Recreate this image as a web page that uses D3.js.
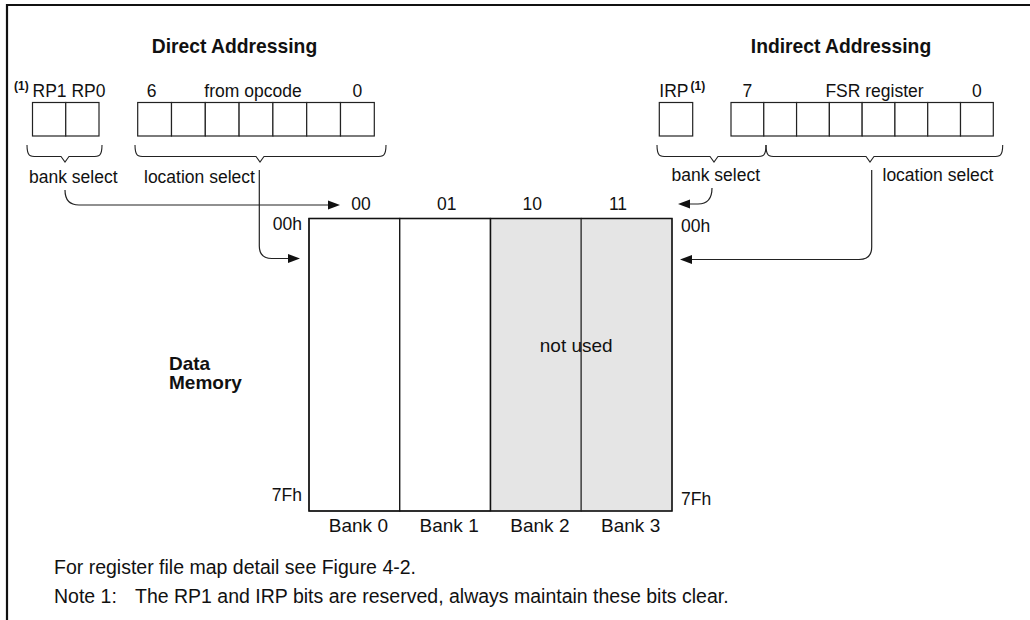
<!DOCTYPE html>
<html>
<head>
<meta charset="utf-8">
<script src="https://cdn.jsdelivr.net/npm/d3@7"></script>
<style>
  body { margin: 0; background: #fff; }
  svg text { font-family: "Liberation Sans", Arial, sans-serif; fill: #111; }
</style>
</head>
<body>
<div id="chart"></div>
<script>
// register bits
const rpBits = ['RP1', 'RP0'];
const opcodeBits = [6, 5, 4, 3, 2, 1, 0];
const irpBits = ['IRP'];
const fsrBits = [7, 6, 5, 4, 3, 2, 1, 0];

// memory banks
const banks = ['Bank 0', 'Bank 1', 'Bank 2', 'Bank 3'];
const bankCodes = ['00', '01', '10', '11'];
const bankUsed = [true, true, false, false];
const addrLabels = [0x00, 0x7F];

const svg = d3.select('#chart')
  .append('svg')
  .attr('width', 1030)
  .attr('height', 620);

// frame (top + left only)
svg.append('path')
  .attr('d', 'M7,620 L7,5 L1030,5')
  .attr('fill', 'none')
  .attr('stroke', '#111')
  .attr('stroke-width', 2.2);

// scales
const xMem = d3.scaleBand().domain(banks).range([309, 672]);
const yMem = d3.scaleLinear().domain([0x00, 0x7F]).range([218.5, 511]);
const xCode = d3.scalePoint().domain(bankCodes).range([361, 618]);

const xRp = d3.scaleBand().domain(rpBits).range([32.5, 99]);
const xOp = d3.scaleBand().domain(opcodeBits).range([137.7, 374.3]);
const xIrp = d3.scaleBand().domain(irpBits).range([659.3, 692.7]);
const xFsr = d3.scaleBand().domain(fsrBits).range([731, 993.3]);
const yBox = [102.5, 136];

function drawBits(scale, bits) {
  svg.append('g').selectAll('rect')
    .data(bits)
    .enter()
    .append('rect')
    .attr('x', d => scale(d))
    .attr('y', yBox[0])
    .attr('width', scale.bandwidth())
    .attr('height', yBox[1] - yBox[0])
    .attr('fill', '#fff')
    .attr('stroke', '#222')
    .attr('stroke-width', 1.2);
}
drawBits(xRp, rpBits);
drawBits(xOp, opcodeBits);
drawBits(xIrp, irpBits);
drawBits(xFsr, fsrBits);

function label(x, y, txt, opts) {
  opts = opts || {};
  return svg.append('text')
    .attr('x', x)
    .attr('y', y)
    .attr('text-anchor', opts.anchor || 'start')
    .attr('font-size', opts.size || 17.5)
    .attr('font-weight', opts.bold ? 'bold' : 'normal')
    .text(txt);
}

// titles
label(234.5, 53, 'Direct Addressing', {anchor: 'middle', size: 19.3, bold: true});
label(841, 53, 'Indirect Addressing', {anchor: 'middle', size: 19.3, bold: true});

// bit labels
label(14, 90, '(1)', {size: 12, bold: true});
label(xRp.range()[0], 97, rpBits.join(' '));
label(xOp(opcodeBits[0]) + xOp.bandwidth() / 2 - 3, 97, opcodeBits[0], {anchor: 'middle'});
label(253, 97, 'from opcode', {anchor: 'middle'});
label(xOp(opcodeBits[6]) + xOp.bandwidth() / 2, 97, opcodeBits[6], {anchor: 'middle'});

label(659.3, 97, irpBits[0]);
label(690.5, 90, '(1)', {size: 12, bold: true});
label(xFsr(fsrBits[0]) + xFsr.bandwidth() / 2, 97, fsrBits[0], {anchor: 'middle'});
label(874.5, 97, 'FSR register', {anchor: 'middle'});
label(xFsr(fsrBits[7]) + xFsr.bandwidth() / 2, 97, fsrBits[7], {anchor: 'middle'});

// curly braces under the bit fields
function brace(x0, x1, tip) {
  const y0 = 145, y1 = 156.5;
  const p = d3.path();
  p.moveTo(x0, y0);
  p.bezierCurveTo(x0, y1, x0 + 3, y1, x0 + 10, y1);
  p.lineTo(tip - 4, y1);
  p.lineTo(tip, y1 + 5.5);
  p.lineTo(tip + 4, y1);
  p.lineTo(x1 - 10, y1);
  p.bezierCurveTo(x1 - 3, y1, x1, y1, x1, y0);
  svg.append('path')
    .attr('d', p.toString())
    .attr('fill', 'none')
    .attr('stroke', '#222')
    .attr('stroke-width', 1.1);
}
brace(27, 102, 65);
brace(135, 386, 260);
brace(657, 766, 714);
brace(766, 1002.7, 870);

label(29, 182.5, 'bank select');
label(144, 182.5, 'location select');
label(671.5, 180.5, 'bank select');
label(882.5, 180.5, 'location select');

// arrows
function arrow(pathStr, tipX, tipY, dir) {
  svg.append('path')
    .attr('d', pathStr)
    .attr('fill', 'none')
    .attr('stroke', '#222')
    .attr('stroke-width', 1.2);
  const len = 12, hw = 4.5;
  const bx = tipX - dir * len;
  svg.append('path')
    .attr('d', `M${tipX},${tipY} L${bx},${tipY - hw} L${bx},${tipY + hw} Z`)
    .attr('fill', '#111');
}
arrow('M65,190 Q65,205 79,205 L329,205', 340, 205, 1);
arrow('M259.3,170 L259.3,246 Q259.3,258.5 272,258.5 L289,258.5', 300, 258.5, 1);
arrow('M712,188 Q712,204 698,204 L689,204', 678, 204, -1);
arrow('M871.7,170 L871.7,247 Q871.7,259.5 859,259.5 L691,259.5', 680, 259.5, -1);

// memory banks
const memTop = yMem(addrLabels[0]);
const memBot = yMem(addrLabels[1]);
svg.append('g').selectAll('rect')
  .data(banks)
  .enter()
  .append('rect')
  .attr('x', d => xMem(d))
  .attr('y', memTop)
  .attr('width', xMem.bandwidth())
  .attr('height', memBot - memTop)
  .attr('fill', (d, i) => bankUsed[i] ? '#fff' : '#e5e5e5')
  .attr('stroke', (d, i) => bankUsed[i] ? '#111' : '#444')
  .attr('stroke-width', 1.3);
// redraw the outer outline in black
svg.append('rect')
  .attr('x', xMem.range()[0])
  .attr('y', memTop)
  .attr('width', xMem.range()[1] - xMem.range()[0])
  .attr('height', memBot - memTop)
  .attr('fill', 'none')
  .attr('stroke', '#111')
  .attr('stroke-width', 1.3);
svg.append('line')
  .attr('x1', xMem('Bank 2')).attr('x2', xMem('Bank 2'))
  .attr('y1', memTop).attr('y2', memBot)
  .attr('stroke', '#111').attr('stroke-width', 1.3);

// bank codes above, bank names below
svg.append('g').selectAll('text')
  .data(bankCodes)
  .enter()
  .append('text')
  .attr('x', d => xCode(d))
  .attr('y', 210)
  .attr('text-anchor', 'middle')
  .attr('font-size', 17.5)
  .text(d => d);

svg.append('g').selectAll('text')
  .data(banks)
  .enter()
  .append('text')
  .attr('x', d => xMem(d) + xMem.bandwidth() / 2 + 4)
  .attr('y', 532)
  .attr('text-anchor', 'middle')
  .attr('font-size', 19)
  .text(d => d);

// address labels
const hex = v => v.toString(16).toUpperCase().padStart(2, '0') + 'h';
label(302, yMem(addrLabels[0]) + 11, hex(addrLabels[0]), {anchor: 'end'});
label(302, yMem(addrLabels[1]) - 10, hex(addrLabels[1]), {anchor: 'end'});
label(681, yMem(addrLabels[0]) + 13, hex(addrLabels[0]));
label(681, yMem(addrLabels[1]) - 6, hex(addrLabels[1]));

label((xMem('Bank 2') + xMem.range()[1]) / 2 - 5, 351.5, 'not used', {anchor: 'middle', size: 19});

label(169, 369.5, 'Data', {size: 19, bold: true});
label(169, 388.5, 'Memory', {size: 19, bold: true});

// notes
label(54, 574, 'For register file map detail see Figure 4-2.', {size: 19.5});
label(54, 603, 'Note 1:', {size: 19.5});
label(135, 603, 'The RP1 and IRP bits are reserved, always maintain these bits clear.', {size: 19.5});
</script>
</body>
</html>
